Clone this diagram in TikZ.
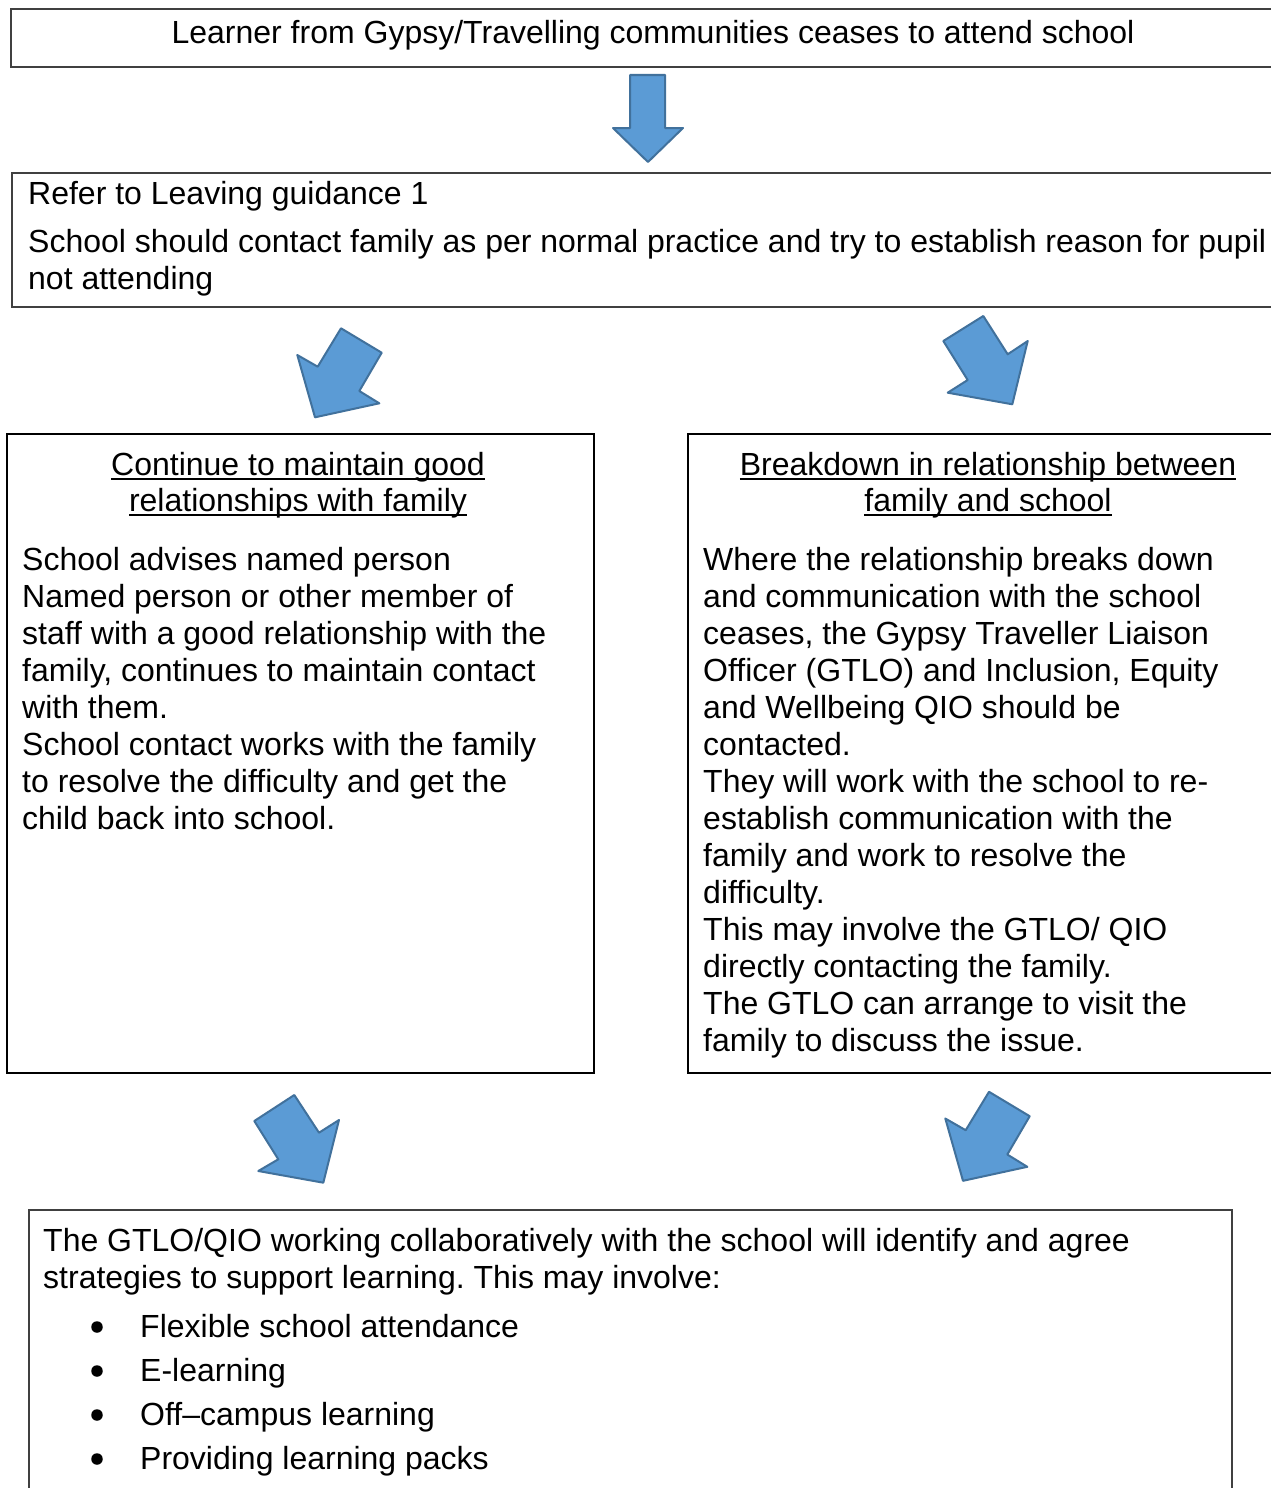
\documentclass[tikz,border=0pt]{standalone}
\usepackage{fontspec}
\setmainfont{Liberation Sans}
\frenchspacing
\definecolor{arrfill}{HTML}{5B9BD5}
\definecolor{arrline}{HTML}{41719C}
\newcommand\ulline[1]{\setbox0\hbox{#1}\rlap{\rule[-5pt]{\wd0}{2pt}}\box0}
\tikzset{
  thinbox/.style={draw=black!75, line width=1.3pt},
  thickbox/.style={draw=black, line width=2pt},
  blockarrow/.style={fill=arrfill, draw=arrline, line width=2pt, line join=round},
  txt/.style={inner sep=0pt, font=\fontsize{32}{37}\selectfont, anchor=base west},
  ctxt/.style={txt, anchor=base},
  bulletdot/.style={circle, fill=black, inner sep=0pt, minimum size=11.5pt},
}
\begin{document}
\begin{tikzpicture}[x=1pt,y=-1pt]
\useasboundingbox (0,0) rectangle (1270,1488);
\fill[white] (0,0) rectangle (1270,1488);

% boxes
\draw[thinbox] (11,9) rectangle (1280,67);
\draw[thinbox] (12,173) rectangle (1280,307);
\draw[thickbox] (7,434) rectangle (594,1073);
\draw[thickbox] (688,434) rectangle (1280,1073);
\draw[thinbox] (29,1210) rectangle (1232,1500);

% block arrows
\draw[blockarrow] (630,75) -- (665,75) -- (665,128) -- (683,128) -- (648,162) -- (613,128) -- (630,128) -- cycle;
\draw[blockarrow] (341,328.3) -- (381.7,352.7) -- (359.3,391) -- (379.3,403.3) -- (315,417.3) -- (297.3,355) -- (317.7,366.7) -- cycle;
\draw[blockarrow] (983.3,316) -- (943.3,341) -- (967.7,380) -- (947.7,392.7) -- (1012.3,404.3) -- (1027.7,341) -- (1007.7,354.3) -- cycle;
\draw[blockarrow] (294.3,1095) -- (254.3,1121) -- (278.3,1159.3) -- (258.3,1171) -- (323.3,1182.7) -- (339,1120) -- (319,1132.7) -- cycle;
\draw[blockarrow] (989,1091.8) -- (1029.7,1116.2) -- (1007.3,1154.5) -- (1027.3,1166.8) -- (963,1180.8) -- (945.3,1118.5) -- (965.7,1130.2) -- cycle;

% texts
\node[ctxt] (t1) at (653,44) {Learner from Gypsy/Travelling communities ceases to attend school};

\node[txt] (r1) at (28,204) {Refer to Leaving guidance 1};
\node[txt] (r2) at (28,252) {School should contact family as per normal practice and try to establish reason for pupil};
\node[txt] (r3) at (28,289) {not attending};

\node[ctxt] (lh1) at (298,475) {\ulline{Continue to maintain good}};
\node[ctxt] (lh2) at (298,511) {\ulline{relationships with family}};
\foreach \t [count=\i from 0] in {{School advises named person},{Named person or other member of},{staff with a good relationship with the},{family, continues to maintain contact},{with them.},{School contact works with the family},{to resolve the difficulty and get the},{child back into school.}}
  \node[txt] (L\i) at (22,{570+37*\i}) {\t};

\node[ctxt] (rh1) at (988,475) {\ulline{Breakdown in relationship between}};
\node[ctxt] (rh2) at (988,511) {\ulline{family and school}};
\foreach \t [count=\i from 0] in {{Where the relationship breaks down},{and communication with the school},{ceases, the Gypsy Traveller Liaison},{Officer (GTLO) and Inclusion, Equity},{and Wellbeing QIO should be},{contacted.},{They will work with the school to re-},{establish communication with the},{family and work to resolve the},{difficulty.},{This may involve the GTLO/ QIO},{directly contacting the family.},{The GTLO can arrange to visit the},{family to discuss the issue.}}
  \node[txt] (R\i) at (703,{570+37*\i}) {\t};

\node[txt] (b1) at (43,1251) {The GTLO/QIO working collaboratively with the school will identify and agree};
\node[txt] (b2) at (43,1288) {strategies to support learning. This may involve:};
\foreach \t [count=\i from 0] in {{Flexible school attendance},{E-learning},{Off–campus learning},{Providing learning packs}}{
  \node[bulletdot] (bu\i) at (97,{1327+44*\i}) {};
  \node[txt] (bt\i) at (140,{1337+44*\i}) {\t};
}
\end{tikzpicture}
\end{document}
